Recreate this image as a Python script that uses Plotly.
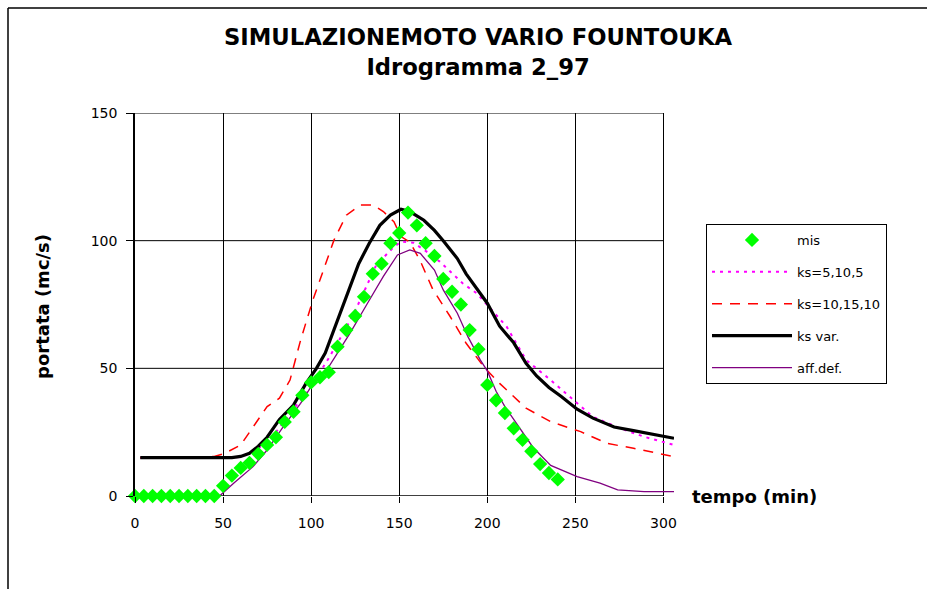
import plotly.graph_objects as go

# ---- data ----
mis_t = [0, 5, 10, 15, 20, 25, 30, 35, 40, 45, 50, 55, 60, 65, 70, 75, 80, 85, 90, 95,
         100, 105, 110, 115, 120, 125, 130, 135, 140, 145, 150, 155, 160, 165, 170, 175,
         180, 185, 190, 195, 200, 205, 210, 215, 220, 225, 230, 235, 240]
mis_q = [0, 0, 0, 0, 0, 0, 0, 0, 0, 0, 4, 8, 11, 13, 16.5, 20, 23, 29, 33, 39.5,
         44.5, 46.5, 48.5, 58.5, 65, 70.5, 78, 87, 91, 99, 103, 111, 106, 99, 94, 85,
         80, 75, 65, 57.5, 43.5, 37.5, 32.5, 26.5, 22, 17.5, 12.5, 9, 6.5]

ks5_t = [3, 40, 55, 60, 70, 80, 90, 100, 110, 120, 126, 137, 147, 151, 158, 165, 173,
         186, 194, 211, 222, 236, 249, 260, 274, 289, 306]
ks5_q = [15, 14.8, 15, 15.3, 18.5, 25, 34, 43, 54, 66, 74, 90.5, 97.6, 99.6, 99.2, 96,
         91.8, 83.3, 79.4, 66.3, 53.3, 45.4, 37.6, 31, 26.9, 23.2, 20]

ks10_t = [3, 35, 45, 51, 60, 67, 75, 82, 88, 94, 101, 107, 113, 120, 128, 135, 141, 147,
          151, 156, 162, 169, 179, 188, 198, 207, 222, 236, 253, 268, 283, 306]
ks10_q = [15, 15, 15.5, 16.7, 20, 27, 35, 38.3, 45.4, 61, 76.8, 88.5, 100.3, 110, 114,
          114, 111.4, 107.4, 101.6, 99.5, 92, 81, 70.2, 59.8, 50.6, 44.1, 34.4, 29.1,
          25.2, 20.6, 18.7, 15.4]

ksvar_t = [3, 20, 40, 55, 60, 65, 70, 75, 82, 90, 97, 103, 108, 113, 120, 127, 133, 139,
           145, 151, 156, 164, 170, 175, 183, 188, 200, 207, 215, 222, 228, 235, 242, 251,
           260, 272, 283, 296, 306]
ksvar_q = [15, 15, 14.8, 15, 15.5, 16.7, 19.5, 23, 30, 35.6, 44, 50, 56, 65, 78, 91, 99,
           106, 110, 112.3, 111.4, 108, 104, 100, 93, 87, 75.5, 66.5, 60, 52, 47, 42.5,
           39, 34, 30.5, 27, 25.6, 24, 22.6]

aff_t = [0, 48, 56, 67, 75, 84, 94, 101, 110, 122, 132, 141, 149, 156, 162, 170, 175,
         183, 189, 196, 200, 205, 210, 215, 226, 236, 251, 264, 274, 289, 306]
aff_q = [0, 0, 5, 11.5, 18, 27, 36.3, 44, 50.6, 63.7, 75.5, 86, 94.4, 96.4, 95, 88.5,
         80.7, 71.6, 62.4, 53.3, 49, 41, 35, 30, 19, 12, 7.6, 5, 2.4, 1.7, 1.7]

x_ticks = [0, 50, 100, 150, 200, 250, 300]
y_ticks = [0, 50, 100, 150]

# ---- layout constants (pixels) ----
W, H = 927, 589
ML, MR, MT, MB = 135, 253, 113, 93
pw = W - ML - MR
ph = H - MT - MB


def px_x(px):
    return (px - ML) / pw


def px_y(py):
    return (H - MB - py) / ph


FONT = "DejaVu Sans"

fig = go.Figure()

fig.add_trace(go.Scatter(x=ks5_t, y=ks5_q, mode="lines", name="ks=5,10,5",
                         legendgroup="b", legendrank=2,
                         line=dict(color="#FF00FF", width=2, dash="3px,5px")))
fig.add_trace(go.Scatter(x=ks10_t, y=ks10_q, mode="lines", name="ks=10,15,10",
                         legendgroup="c", legendrank=3,
                         line=dict(color="#FF0000", width=1.5, dash="10px,8px")))
fig.add_trace(go.Scatter(x=ksvar_t, y=ksvar_q, mode="lines", name="ks var.",
                         legendgroup="d", legendrank=4,
                         line=dict(color="#000000", width=3.2)))
fig.add_trace(go.Scatter(x=aff_t, y=aff_q, mode="lines", name="aff.def.",
                         legendgroup="e", legendrank=5,
                         line=dict(color="#800080", width=1.3)))
fig.add_trace(go.Scatter(x=mis_t, y=mis_q, mode="markers", name="mis",
                         legendgroup="a", legendrank=1, cliponaxis=False,
                         marker=dict(symbol="diamond", size=11, color="#00FF00",
                                     line=dict(width=0))))

shapes = []
# horizontal gridlines stop at x=300
for yv in y_ticks[1:]:
    shapes.append(dict(type="line", xref="x", yref="y", x0=x_ticks[0], x1=x_ticks[-1],
                       y0=yv, y1=yv, line=dict(color="black", width=1), layer="below"))
# x axis line
shapes.append(dict(type="line", xref="x", yref="y", x0=x_ticks[0], x1=x_ticks[-1],
                   y0=0, y1=0, line=dict(color="black", width=1.5), layer="below"))
# chart border (left, top)
shapes.append(dict(type="line", xref="paper", yref="paper", x0=px_x(8), x1=px_x(8),
                   y0=px_y(8), y1=px_y(590), line=dict(color="black", width=1.5)))
shapes.append(dict(type="line", xref="paper", yref="paper", x0=px_x(8), x1=px_x(930),
                   y0=px_y(8), y1=px_y(8), line=dict(color="black", width=1.5)))

annotations = [
    dict(text="<b>SIMULAZIONEMOTO VARIO FOUNTOUKA</b><br><b>Idrogramma 2_97</b>",
         xref="paper", yref="paper", x=px_x(478), y=px_y(52), xanchor="center",
         yanchor="middle", showarrow=False, align="center",
         font=dict(family=FONT, size=22.7, color="black")),
    dict(text="<b>tempo (min)</b>", xref="paper", yref="paper", x=px_x(690), y=px_y(497),
         xanchor="left", yanchor="middle", showarrow=False,
         font=dict(family=FONT, size=18, color="black")),
    dict(text="<b>portata (mc/s)</b>", xref="paper", yref="paper", x=px_x(42), y=px_y(307),
         xanchor="center", yanchor="middle", showarrow=False, textangle=-90,
         font=dict(family=FONT, size=18, color="black")),
]

fig.update_layout(
    width=W, height=H,
    margin=dict(l=ML, r=MR, t=MT, b=MB),
    paper_bgcolor="white", plot_bgcolor="white",
    font=dict(family=FONT, size=14, color="black"),
    showlegend=True,
    legend=dict(x=px_x(706), y=px_y(224), xanchor="left", yanchor="top",
                bordercolor="black", borderwidth=1, bgcolor="white",
                font=dict(family=FONT, size=13, color="black"),
                itemwidth=80, tracegroupgap=12, traceorder="grouped",
                entrywidth=95),
    xaxis=dict(range=[0, 306], tickvals=x_ticks, showgrid=True, gridcolor="black",
               gridwidth=1, zeroline=False, showline=False, ticks="outside",
               ticklen=6, tickcolor="black", ticklabelstandoff=8,
               tickfont=dict(family=FONT, size=14)),
    yaxis=dict(range=[0, 150], tickvals=y_ticks, showgrid=False, zeroline=False,
               showline=True, linecolor="black", linewidth=1.5, ticks="outside",
               ticklen=7, tickcolor="black", ticklabelstandoff=6,
               tickfont=dict(family=FONT, size=14)),
    shapes=shapes,
    annotations=annotations,
)

fig.write_html("out.html")
